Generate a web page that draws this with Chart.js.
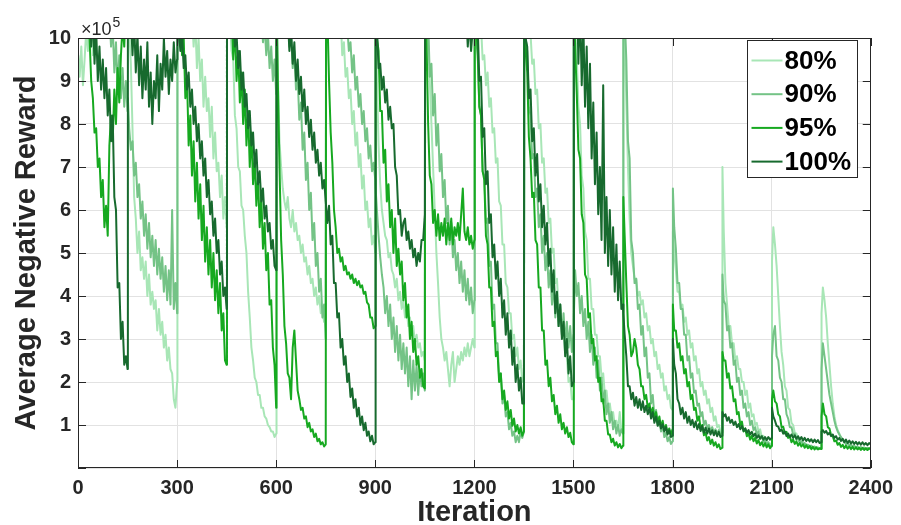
<!DOCTYPE html>
<html>
<head>
<meta charset="utf-8">
<script src="https://cdn.jsdelivr.net/npm/chart.js@4.4.1/dist/chart.umd.min.js"></script>
<style>
  html, body { margin: 0; padding: 0; background: #ffffff; }
  #wrap { width: 901px; height: 525px; }
</style>
</head>
<body>
<div id="wrap"><canvas id="c" width="901" height="525"></canvas></div>
<script>
// ---- categories: iterations (segment starts x offsets inside a 150-iteration segment) ----
const segmentStarts = [0, 150, 300, 450, 600, 750, 900, 1050, 1200, 1350, 1500, 1650, 1800, 1950, 2100, 2250];
const segmentOffsets = [1, 5, 10, 15, 20, 25, 30, 35, 40, 45, 50, 55, 60, 65, 70, 75, 80, 85, 90, 95, 100, 105, 110, 115, 120, 125, 130, 135, 140, 145, 150];
const xTickValues = [0, 300, 600, 900, 1200, 1500, 1800, 2100, 2400];
const yTickValues = [0, 1, 2, 3, 4, 5, 6, 7, 8, 9, 10];
const seriesLabels = ['80%', '90%', '95%', '100%'];

// ---- series values (x 10^5), one line per 150-iteration segment ----
const reward80 = [
  9.6, 9.1, 9.8, 8.9, 9.5, 10.2, 9.7, 10.8, 11.5, 9.6, 11.3, 11.8, 10.8, 11.6, 12.0, 11.4, 11.9, 10.5, 11.7, 12.0, 11.3, 11.8, 10.9, 11.6, 12.0, 11.4, 11.7, 10.8, 11.3, 10.9, 10.6,
  10.8, 10.2, 9.4, 7.9, 6.3, 5.8, 5.0, 5.5, 4.6, 4.9, 4.4, 4.8, 4.0, 4.5, 3.8, 4.1, 3.7, 3.9, 3.2, 3.7, 3.1, 3.4, 2.8, 3.1, 2.5, 2.8, 2.3, 2.2, 1.6, 1.4, 2.0,
  11.0, 11.4, 10.8, 11.6, 10.5, 11.2, 10.3, 10.9, 10.1, 10.6, 9.8, 10.4, 9.3, 10.0, 9.0, 9.5, 8.4, 9.1, 8.3, 8.6, 7.7, 8.4, 7.2, 7.8, 6.9, 7.1, 6.3, 6.8, 5.8, 6.3, 5.6,
  11.5, 11.0, 10.4, 9.7, 9.5, 8.2, 7.9, 7.0, 6.9, 6.1, 6.0, 5.4, 5.0, 4.1, 3.5, 2.8, 2.5, 2.1, 2.0, 1.7, 1.7, 1.4, 1.4, 1.2, 1.15, 1.0, 0.95, 0.85, 0.85, 0.72, 0.8,
  11.0, 9.2, 7.6, 7.0, 6.5, 6.2, 6.0, 6.3, 5.8, 5.6, 6.0, 5.5, 5.7, 5.3, 5.4, 5.0, 5.2, 4.8, 4.9, 4.5, 4.7, 4.3, 4.4, 4.0, 4.2, 3.8, 4.0, 3.6, 3.7, 3.4, 3.5,
  11.5, 11.8, 11.2, 11.6, 10.9, 11.3, 10.6, 10.9, 10.2, 10.5, 9.6, 9.9, 9.1, 9.3, 8.6, 8.8, 8.0, 8.3, 7.5, 7.8, 7.0, 7.3, 6.5, 6.8, 6.0, 6.2, 5.6, 5.8, 5.2, 5.4, 5.0,
  11.0, 9.0, 7.5, 6.6, 6.0, 5.7, 5.4, 5.3, 4.9, 5.0, 4.6, 4.5, 4.2, 4.4, 3.9, 4.1, 3.7, 3.9, 3.5, 3.7, 3.3, 3.5, 3.1, 3.3, 2.9, 3.1, 2.8, 2.9, 2.6, 2.7, 2.5,
  11.0, 10.6, 10.0, 9.0, 8.0, 7.0, 6.0, 5.0, 4.3, 3.5, 3.0, 2.8, 2.5, 2.7, 2.3, 1.9, 2.4, 2.7, 2.0, 2.3, 2.6, 2.4, 2.7, 2.5, 2.8, 2.6, 2.9, 2.6, 2.8, 3.0, 2.8,
  11.0, 10.6, 10.7, 10.0, 10.3, 9.5, 9.6, 8.9, 9.2, 8.4, 8.6, 7.8, 7.9, 7.1, 7.2, 6.2, 6.1, 5.2, 5.2, 4.3, 4.2, 3.6, 3.6, 3.0, 3.1, 2.6, 2.8, 2.3, 2.5, 2.0, 2.1,
  11.0, 10.6, 10.5, 10.0, 10.1, 9.4, 9.5, 8.7, 8.8, 7.9, 8.0, 7.1, 7.2, 6.4, 6.5, 5.7, 5.8, 5.0, 5.1, 4.3, 4.4, 3.7, 3.8, 3.1, 3.2, 2.6, 2.6, 2.0, 2.1, 1.6, 1.6,
  11.0, 10.2, 9.6, 8.4, 8.0, 6.8, 6.5, 5.5, 5.3, 4.4, 4.4, 3.7, 3.7, 3.1, 3.1, 2.6, 2.6, 2.1, 2.2, 1.7, 1.8, 1.4, 1.5, 1.2, 1.3, 1.0, 1.1, 0.9, 1.3, 0.85, 1.0,
  11.0, 10.0, 8.5, 7.0, 5.8, 5.0, 4.7, 4.4, 4.4, 4.0, 4.1, 3.8, 3.9, 3.5, 3.6, 3.2, 3.3, 2.9, 3.0, 2.6, 2.7, 2.3, 2.4, 2.1, 2.2, 1.8, 1.9, 1.6, 1.7, 1.4, 1.35,
  5.5, 5.0, 4.6, 4.1, 4.1, 3.7, 3.8, 3.4, 3.5, 3.1, 3.2, 2.8, 2.9, 2.5, 2.6, 2.2, 2.3, 1.9, 2.0, 1.7, 1.8, 1.5, 1.6, 1.3, 1.4, 1.1, 1.2, 0.95, 1.0, 0.85, 0.85,
  7.0, 5.5, 4.3, 3.8, 3.3, 3.3, 2.9, 2.9, 2.5, 2.6, 2.3, 2.3, 2.0, 2.0, 1.7, 1.8, 1.4, 1.5, 1.2, 1.25, 1.0, 1.05, 0.85, 0.9, 0.72, 0.75, 0.62, 0.65, 0.55, 0.57, 0.5,
  4.8, 5.6, 5.2, 4.7, 4.0, 3.3, 2.7, 2.4, 1.9, 1.8, 1.4, 1.35, 1.05, 1.0, 0.82, 0.8, 0.68, 0.66, 0.58, 0.6, 0.52, 0.56, 0.5, 0.53, 0.47, 0.5, 0.46, 0.48, 0.44, 0.46, 0.45,
  3.6, 4.2, 3.9, 3.5, 2.9, 2.4, 1.9, 1.5, 1.2, 1.0, 0.88, 0.8, 0.68, 0.66, 0.58, 0.57, 0.5, 0.53, 0.47, 0.5, 0.45, 0.48, 0.44, 0.47, 0.43, 0.46, 0.43, 0.45, 0.42, 0.45, 0.43
];

const reward90 = [
  11.5, 12.0, 11.6, 12.2, 11.8, 12.4, 11.9, 12.1, 11.5, 11.9, 11.3, 11.7, 11.1, 11.5, 10.8, 11.2, 10.5, 10.9, 10.2, 10.6, 9.8, 10.3, 9.2, 9.9, 8.8, 9.6, 8.6, 9.3, 8.4, 9.0, 8.3,
  8.6, 7.9, 7.4, 7.6, 6.8, 7.1, 6.3, 6.6, 5.8, 6.2, 5.4, 5.9, 5.1, 5.7, 4.9, 5.4, 4.7, 5.3, 4.5, 5.1, 4.4, 4.9, 4.1, 4.7, 3.9, 4.6, 3.8, 6.0, 3.7, 4.3, 3.6,
  11.5, 12.0, 11.4, 11.8, 11.1, 11.6, 11.9, 11.3, 11.7, 11.0, 11.5, 11.8, 11.2, 11.6, 10.9, 11.4, 11.7, 11.1, 11.5, 10.8, 11.3, 11.6, 11.0, 11.4, 10.7, 11.2, 11.5, 10.9, 11.3, 10.6, 11.0,
  11.3, 11.7, 11.1, 11.5, 10.9, 11.4, 11.7, 11.0, 11.4, 10.8, 11.2, 11.5, 10.9, 11.3, 10.7, 11.1, 10.5, 10.9, 10.3, 10.7, 10.1, 10.5, 9.9, 10.3, 9.6, 10.1, 9.3, 9.8, 9.0, 9.5, 8.7,
  11.0, 11.3, 10.8, 11.1, 10.5, 10.8, 10.2, 10.5, 9.8, 10.1, 9.3, 9.7, 8.8, 9.1, 8.1, 8.5, 7.4, 7.8, 6.7, 7.1, 6.0, 6.4, 5.3, 5.7, 4.7, 5.0, 4.1, 4.4, 3.5, 3.8, 3.0,
  11.5, 11.9, 11.3, 11.7, 11.0, 11.4, 10.8, 11.1, 10.5, 10.9, 10.3, 10.6, 10.0, 10.3, 9.7, 9.9, 9.2, 9.6, 8.8, 9.1, 8.4, 8.7, 8.0, 8.3, 7.6, 7.9, 7.2, 7.5, 6.9, 7.1, 6.7,
  6.5, 6.0, 5.4, 4.9, 4.5, 4.2, 3.6, 4.0, 3.3, 3.8, 3.0, 3.5, 2.7, 3.3, 2.5, 3.1, 2.3, 2.9, 2.2, 2.8, 1.9, 2.6, 1.6, 2.5, 1.8, 2.4, 1.7, 2.3, 1.9, 2.2, 1.8,
  11.0, 10.2, 10.4, 9.1, 9.4, 8.2, 8.7, 7.5, 8.0, 6.9, 7.3, 6.3, 6.7, 5.7, 6.1, 5.2, 5.7, 4.9, 5.3, 4.6, 5.0, 4.3, 4.8, 4.1, 4.6, 3.9, 4.4, 3.8, 4.2, 3.6, 3.9,
  11.0, 10.0, 9.6, 8.4, 8.2, 6.9, 6.8, 5.7, 5.8, 4.7, 4.8, 3.7, 3.8, 2.9, 2.9, 2.1, 2.2, 1.5, 1.7, 1.2, 1.3, 0.9, 1.05, 0.75, 0.85, 0.6, 0.75, 0.6, 0.85, 0.7, 0.85,
  11.0, 10.0, 9.7, 8.4, 8.2, 7.2, 7.3, 6.3, 6.5, 5.6, 5.9, 5.0, 5.4, 4.6, 5.0, 4.2, 4.6, 3.8, 4.3, 3.5, 4.0, 3.3, 3.8, 3.1, 3.6, 2.9, 3.4, 2.8, 3.3, 2.7, 3.1,
  3.5, 4.6, 4.0, 4.3, 3.6, 4.0, 3.3, 3.7, 3.0, 3.4, 2.7, 3.1, 2.4, 2.8, 2.1, 2.5, 1.8, 2.1, 1.5, 1.8, 1.25, 1.5, 1.05, 1.3, 0.9, 1.1, 0.8, 1.0, 0.75, 0.9, 0.8,
  11.0, 10.5, 9.5, 7.6, 7.2, 5.3, 5.0, 4.3, 4.4, 3.7, 3.8, 3.1, 3.3, 2.6, 2.8, 2.1, 2.2, 1.5, 1.7, 1.2, 1.35, 1.0, 1.1, 0.85, 1.0, 0.72, 0.82, 0.62, 0.72, 0.56, 0.62,
  6.5, 5.6, 5.1, 4.3, 4.3, 3.7, 3.7, 3.1, 3.1, 2.5, 2.6, 2.1, 2.2, 1.75, 1.8, 1.45, 1.5, 1.2, 1.3, 1.0, 1.1, 0.92, 1.0, 0.86, 0.95, 0.82, 0.9, 0.8, 0.88, 0.78, 0.82,
  4.5, 3.9, 3.8, 3.2, 3.3, 2.8, 2.9, 2.4, 2.5, 2.0, 2.1, 1.7, 1.8, 1.4, 1.5, 1.2, 1.3, 1.0, 1.1, 0.88, 0.95, 0.78, 0.85, 0.68, 0.75, 0.6, 0.65, 0.55, 0.6, 0.5, 0.52,
  2.6, 3.1, 3.3, 2.6, 2.5, 2.1, 2.0, 1.6, 1.6, 1.25, 1.15, 0.95, 0.95, 0.78, 0.8, 0.66, 0.68, 0.58, 0.62, 0.54, 0.58, 0.5, 0.54, 0.48, 0.52, 0.46, 0.5, 0.45, 0.48, 0.44, 0.46,
  2.3, 2.9, 2.6, 2.3, 2.0, 1.7, 1.5, 1.3, 1.1, 0.95, 0.85, 0.78, 0.72, 0.65, 0.63, 0.56, 0.58, 0.52, 0.55, 0.5, 0.52, 0.48, 0.5, 0.46, 0.49, 0.45, 0.48, 0.44, 0.47, 0.44, 0.46
];

const reward95 = [
  11.5, 12.0, 11.6, 11.9, 11.2, 11.5, 10.6, 10.0, 9.0, 8.6, 7.8, 7.9, 7.0, 7.2, 6.3, 6.7, 5.6, 6.1, 5.4, 7.5, 8.2, 7.6, 8.8, 8.0, 9.3, 8.5, 9.6, 10.3, 9.8, 10.8, 11.2,
  11.5, 11.9, 11.3, 11.7, 11.0, 11.5, 11.8, 11.2, 11.6, 10.9, 11.4, 11.7, 11.1, 11.5, 10.8, 11.3, 11.6, 11.0, 11.4, 10.7, 11.2, 11.5, 10.9, 11.3, 10.6, 11.1, 11.4, 10.8, 11.2, 10.5, 11.0,
  11.0, 10.4, 10.9, 9.6, 10.0, 8.6, 9.1, 7.5, 8.2, 6.8, 7.6, 6.2, 7.1, 5.8, 6.6, 5.3, 6.1, 4.8, 5.6, 4.5, 5.3, 4.2, 5.0, 3.9, 4.6, 3.6, 4.3, 3.2, 3.6, 2.5, 2.4,
  11.0, 11.2, 10.2, 10.7, 9.5, 10.3, 9.0, 9.7, 8.5, 9.2, 8.0, 8.8, 7.5, 8.3, 7.0, 7.8, 6.6, 7.2, 6.1, 6.8, 5.6, 6.3, 5.1, 5.7, 4.6, 5.0, 3.8, 3.9, 2.8, 2.4, 1.4,
  11.0, 9.0, 7.0, 5.3, 4.5, 3.3, 2.9, 2.2, 2.1, 1.6, 2.8, 3.2, 2.5, 1.8, 1.6, 1.35, 1.4, 1.15, 1.2, 0.95, 1.05, 0.85, 0.9, 0.72, 0.8, 0.62, 0.68, 0.55, 0.6, 0.5, 0.55,
  11.0, 10.5, 9.0, 7.8, 7.1, 6.0, 5.6, 5.0, 5.1, 4.8, 4.9, 4.6, 4.7, 4.5, 4.55, 4.4, 4.5, 4.3, 4.4, 4.25, 4.35, 4.2, 4.25, 4.05, 4.1, 3.85, 3.8, 3.5, 3.5, 3.25, 3.3,
  11.0, 10.0, 9.7, 8.3, 8.3, 7.1, 7.4, 6.2, 6.6, 5.6, 6.0, 5.0, 5.8, 4.7, 5.1, 4.5, 4.8, 3.9, 4.3, 3.5, 3.8, 3.0, 3.4, 2.7, 3.0, 2.4, 2.6, 2.1, 2.3, 1.9, 1.85,
  11.0, 10.0, 8.0, 6.8, 6.6, 5.7, 6.0, 5.4, 5.9, 5.3, 5.7, 5.4, 5.8, 5.2, 5.7, 5.3, 5.8, 5.2, 5.6, 5.4, 5.7, 5.3, 5.9, 6.5, 5.5, 5.3, 5.6, 5.2, 5.4, 5.1, 5.3,
  11.0, 10.3, 9.7, 8.4, 8.2, 6.9, 6.7, 5.4, 5.2, 4.2, 4.2, 3.3, 3.4, 2.6, 2.7, 2.0, 2.2, 1.6, 1.8, 1.35, 1.55, 1.15, 1.35, 0.98, 1.15, 0.85, 1.0, 0.8, 0.95, 0.75, 0.85,
  11.0, 9.8, 9.2, 7.7, 7.2, 6.3, 6.4, 5.3, 5.2, 4.2, 4.2, 3.2, 3.2, 2.4, 2.5, 1.9, 2.1, 1.55, 1.7, 1.25, 1.45, 1.05, 1.25, 0.9, 1.05, 0.8, 0.95, 0.72, 0.82, 0.6, 0.55,
  11.0, 9.8, 8.7, 7.4, 7.2, 5.9, 5.7, 4.5, 4.4, 3.5, 3.6, 2.9, 3.0, 2.5, 2.6, 2.0, 2.1, 1.55, 1.6, 1.1, 1.1, 0.78, 0.78, 0.6, 0.68, 0.52, 0.6, 0.48, 0.56, 0.46, 0.52,
  6.3, 5.4, 4.3, 3.3, 3.1, 2.6, 2.7, 3.0, 2.8, 2.4, 2.3, 1.9, 1.9, 1.6, 1.7, 1.4, 1.5, 1.25, 1.4, 1.15, 1.3, 1.05, 1.2, 0.95, 1.1, 0.88, 1.0, 0.82, 0.92, 0.78, 0.9,
  3.8, 3.2, 3.2, 2.8, 2.9, 2.5, 2.6, 2.2, 2.3, 1.9, 2.0, 1.6, 1.7, 1.35, 1.4, 1.1, 1.2, 0.92, 1.0, 0.76, 0.82, 0.64, 0.72, 0.56, 0.66, 0.52, 0.6, 0.48, 0.55, 0.44, 0.47,
  2.7, 2.5, 2.5, 2.1, 2.2, 1.85, 1.9, 1.55, 1.6, 1.25, 1.3, 1.0, 1.08, 0.85, 0.92, 0.74, 0.8, 0.66, 0.75, 0.62, 0.7, 0.57, 0.65, 0.53, 0.6, 0.5, 0.58, 0.48, 0.55, 0.46, 0.52,
  1.6, 1.8, 1.55, 1.5, 1.25, 1.2, 0.95, 0.96, 0.8, 0.84, 0.7, 0.74, 0.6, 0.66, 0.56, 0.62, 0.52, 0.58, 0.5, 0.55, 0.47, 0.53, 0.46, 0.51, 0.44, 0.49, 0.43, 0.48, 0.43, 0.46, 0.44,
  1.2, 1.5, 1.25, 1.2, 0.95, 0.92, 0.76, 0.74, 0.62, 0.64, 0.54, 0.58, 0.49, 0.54, 0.46, 0.52, 0.45, 0.5, 0.44, 0.49, 0.43, 0.48, 0.43, 0.47, 0.42, 0.47, 0.42, 0.46, 0.42, 0.46, 0.44
];

const reward100 = [
  11.5, 11.8, 11.2, 11.6, 11.0, 11.4, 10.7, 11.1, 9.8, 10.6, 9.4, 10.2, 9.0, 9.8, 8.8, 9.5, 8.6, 9.3, 8.2, 8.8, 7.6, 8.2, 6.3, 6.0, 4.2, 4.3, 3.0, 3.4, 2.4, 2.6, 2.3,
  11.5, 11.0, 10.5, 9.6, 10.4, 9.2, 10.1, 8.9, 9.8, 8.6, 9.5, 8.8, 9.9, 8.4, 9.2, 8.0, 9.0, 8.6, 9.6, 8.3, 9.4, 8.8, 10.0, 9.1, 9.7, 8.7, 9.5, 9.0, 9.9, 9.2, 9.5,
  10.8, 10.2, 9.7, 10.1, 9.3, 9.6, 8.8, 9.2, 8.4, 8.8, 8.0, 8.4, 7.6, 8.0, 7.2, 7.6, 6.8, 7.2, 6.3, 6.7, 5.9, 6.2, 5.4, 5.8, 5.0, 5.3, 4.5, 4.8, 4.0, 4.2, 3.7,
  11.0, 11.3, 10.8, 10.2, 10.6, 9.8, 10.1, 9.3, 9.7, 8.8, 9.2, 8.4, 8.7, 7.9, 8.3, 7.5, 7.8, 7.0, 7.4, 6.6, 6.9, 6.2, 6.5, 5.8, 6.1, 5.5, 5.7, 5.1, 5.3, 4.7, 4.6,
  11.0, 11.4, 10.9, 11.2, 10.5, 10.9, 10.1, 10.5, 9.7, 10.2, 9.4, 9.9, 9.0, 9.5, 8.7, 9.1, 8.3, 8.8, 8.0, 8.4, 7.7, 8.1, 7.4, 7.8, 7.1, 7.4, 6.8, 7.1, 6.5, 6.7, 6.2,
  6.1, 5.7, 6.1, 5.2, 5.4, 4.3, 4.3, 3.5, 3.6, 2.8, 3.0, 2.4, 2.6, 2.0, 2.2, 1.65, 1.85, 1.4, 1.6, 1.2, 1.4, 1.0, 1.2, 0.88, 1.05, 0.75, 0.85, 0.62, 0.75, 0.55, 0.6,
  11.0, 10.2, 9.3, 9.4, 8.8, 9.1, 8.5, 8.8, 8.1, 8.4, 7.9, 8.0, 7.0, 6.8, 5.9, 6.0, 5.4, 5.7, 5.8, 5.3, 5.5, 5.1, 5.3, 4.9, 5.1, 4.7, 5.0, 4.8, 5.3, 5.3, 5.9,
  11.5, 11.8, 11.3, 11.7, 11.1, 11.6, 11.2, 11.8, 11.4, 11.0, 11.6, 11.2, 11.7, 11.3, 10.9, 11.5, 11.0, 11.4, 10.8, 11.2, 10.6, 11.0, 10.4, 10.8, 10.2, 10.6, 9.8, 10.4, 9.7, 10.2, 10.0,
  11.0, 10.3, 10.3, 9.0, 9.1, 7.7, 7.9, 6.6, 6.9, 5.7, 5.9, 4.9, 5.2, 4.4, 4.8, 4.0, 4.4, 3.5, 3.9, 3.1, 3.6, 2.8, 3.2, 2.4, 2.8, 2.0, 2.4, 1.8, 2.1, 1.5, 1.5,
  11.0, 10.0, 9.8, 8.6, 8.8, 7.6, 7.9, 6.8, 7.3, 6.2, 6.6, 5.6, 6.1, 5.2, 5.7, 4.7, 5.1, 4.1, 4.6, 3.6, 4.1, 3.3, 3.8, 3.0, 3.4, 2.6, 3.0, 2.2, 2.6, 1.9, 2.0,
  11.0, 10.2, 11.3, 9.4, 10.8, 8.9, 10.3, 8.4, 9.8, 7.9, 9.4, 7.2, 8.5, 6.6, 7.8, 5.9, 7.0, 5.3, 8.9, 5.0, 6.3, 4.7, 6.0, 4.5, 5.6, 4.1, 5.2, 3.9, 4.8, 3.7, 3.8,
  3.6, 3.1, 2.6, 1.9, 1.9, 1.6, 1.75, 1.45, 1.65, 1.4, 1.6, 1.35, 1.55, 1.3, 1.45, 1.25, 1.4, 1.15, 1.3, 1.05, 1.2, 0.98, 1.1, 0.92, 1.02, 0.85, 0.95, 0.78, 0.88, 0.72, 0.75,
  3.0, 2.4, 2.2, 1.6, 1.5, 1.25, 1.4, 1.15, 1.3, 1.05, 1.2, 1.0, 1.12, 0.95, 1.08, 0.9, 1.02, 0.86, 0.98, 0.82, 0.94, 0.8, 0.92, 0.78, 0.88, 0.76, 0.86, 0.74, 0.84, 0.72, 0.75,
  1.3, 1.2, 1.25, 1.1, 1.18, 1.05, 1.12, 1.0, 1.08, 0.95, 1.02, 0.9, 0.98, 0.86, 0.92, 0.82, 0.88, 0.78, 0.84, 0.74, 0.8, 0.7, 0.76, 0.68, 0.74, 0.66, 0.72, 0.65, 0.72, 0.66, 0.7,
  1.4, 1.2, 1.1, 0.98, 0.96, 0.86, 0.9, 0.8, 0.85, 0.74, 0.8, 0.72, 0.78, 0.7, 0.76, 0.68, 0.74, 0.66, 0.72, 0.64, 0.7, 0.63, 0.68, 0.62, 0.67, 0.6, 0.66, 0.6, 0.65, 0.58, 0.6,
  0.85, 0.88, 0.82, 0.86, 0.78, 0.82, 0.74, 0.78, 0.7, 0.74, 0.66, 0.7, 0.63, 0.68, 0.6, 0.66, 0.58, 0.64, 0.57, 0.62, 0.56, 0.61, 0.55, 0.6, 0.54, 0.6, 0.54, 0.58, 0.53, 0.58, 0.55
];

// ---- build the table the library needs ----
const iterations = [];
segmentStarts.forEach(s => segmentOffsets.forEach(o => iterations.push(s + o)));
const toPoints = vals => vals.map((v, i) => ({ x: iterations[i], y: v }));

const colors = ['#a8e6b6', '#74c386', '#16a920', '#176a2e'];
const allSeries = [reward80, reward90, reward95, reward100];

const FONT = '"Liberation Sans", Arial, Helvetica, sans-serif';
const INK = '#262626';

const framePlugin = {
  id: 'frame',
  afterDatasetsDraw(chart) {
    const { ctx, chartArea: a, scales: { x, y } } = chart;
    ctx.save();
    ctx.strokeStyle = INK;
    ctx.lineWidth = 1;
    // inward tick marks
    const tl = 8;
    ctx.beginPath();
    xTickValues.forEach(v => {
      const px = Math.round(x.getPixelForValue(v)) + 0.5;
      ctx.moveTo(px, a.bottom); ctx.lineTo(px, a.bottom - tl);
      ctx.moveTo(px, a.top); ctx.lineTo(px, a.top + tl);
    });
    yTickValues.forEach(v => {
      const py = Math.round(y.getPixelForValue(v)) + 0.5;
      ctx.moveTo(a.left, py); ctx.lineTo(a.left + tl, py);
      ctx.moveTo(a.right, py); ctx.lineTo(a.right - tl, py);
    });
    ctx.stroke();
    // box
    ctx.strokeRect(Math.round(a.left) + 0.5, Math.round(a.top) + 0.5,
                   Math.round(a.right - a.left) - 1, Math.round(a.bottom - a.top) - 1);

    // exponent label
    ctx.fillStyle = INK;
    ctx.textBaseline = 'alphabetic';
    ctx.textAlign = 'left';
    ctx.font = '18px ' + FONT;
    ctx.fillText('\u00d710', a.left + 3, a.top - 3);
    const w = ctx.measureText('\u00d710').width;
    ctx.font = '14px ' + FONT;
    ctx.fillText('5', a.left + 3 + w + 1, a.top - 11);

    // legend (inside, top-right)
    const bw = 110, bh = 137;
    const bx = Math.round(a.right - 14 - bw) + 0.5;
    const by = Math.round(a.top + 2) + 0.5;
    ctx.fillStyle = '#ffffff';
    ctx.fillRect(bx, by, bw, bh);
    ctx.strokeStyle = INK;
    ctx.strokeRect(bx, by, bw, bh);
    ctx.font = 'bold 26px ' + FONT;
    ctx.textBaseline = 'middle';
    seriesLabels.forEach((lab, i) => {
      const cy = by + 20 + i * 33.7;
      ctx.strokeStyle = colors[i];
      ctx.lineWidth = 2;
      ctx.beginPath();
      ctx.moveTo(bx + 4, cy); ctx.lineTo(bx + 35, cy);
      ctx.stroke();
      ctx.fillStyle = '#000000';
      ctx.fillText(lab, bx + 37, cy + 1);
    });
    ctx.restore();
  }
};

new Chart(document.getElementById('c'), {
  type: 'line',
  data: {
    datasets: allSeries.map((vals, i) => ({
      label: seriesLabels[i],
      data: toPoints(vals),
      borderColor: colors[i],
      backgroundColor: colors[i],
      borderWidth: 2,
      borderJoinStyle: 'round',
      pointRadius: 0,
      tension: 0,
      fill: false,
      order: 4 - i
    }))
  },
  options: {
    responsive: false,
    animation: false,
    events: [],
    parsing: false,
    normalized: true,
    layout: { padding: { left: 0, top: 38, right: 29, bottom: 0 } },
    scales: {
      x: {
        type: 'linear', min: 0, max: 2400,
        afterBuildTicks: s => { s.ticks = xTickValues.map(v => ({ value: v })); },
        afterFit: s => { s.height = 57; },
        ticks: {
          autoSkip: false, maxRotation: 0, padding: 8, color: INK,
          font: { family: FONT, size: 20, weight: 'bold' },
          callback: v => String(v)
        },
        grid: { color: '#e2e2e2', lineWidth: 1, drawTicks: false },
        border: { display: false },
        title: {
          display: true, text: 'Iteration', color: INK,
          font: { family: FONT, size: 29, weight: 'bold', lineHeight: 0.8 },
          padding: { top: 0, bottom: 0 }
        }
      },
      y: {
        type: 'linear', min: 0, max: 10,
        afterBuildTicks: s => { s.ticks = yTickValues.map(v => ({ value: v })); },
        afterFit: s => { s.width = 78; },
        ticks: {
          padding: 7, color: INK,
          font: { family: FONT, size: 20, weight: 'bold' },
          callback: v => (v === 0 ? '' : String(v))
        },
        grid: { color: '#e2e2e2', lineWidth: 1, drawTicks: false },
        border: { display: false },
        title: {
          display: true, text: 'Average Negative Reward', color: INK,
          font: { family: FONT, size: 29, weight: 'bold', lineHeight: 1.2 },
          padding: { top: 10, bottom: 0 }
        }
      }
    },
    plugins: {
      legend: { display: false },
      tooltip: { enabled: false }
    }
  },
  plugins: [framePlugin]
});
</script>
</body>
</html>
